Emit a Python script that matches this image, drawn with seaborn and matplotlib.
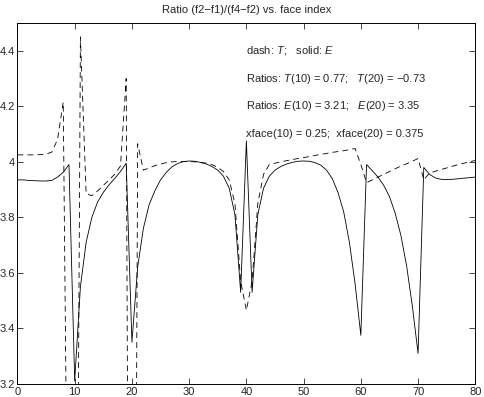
import matplotlib
matplotlib.use("Agg")
import matplotlib.pyplot as plt
import pandas as pd
import seaborn as sns

# face index and the two ratio curves
face = list(range(81))

ratio_e = [3.935, 3.935, 3.933, 3.932, 3.931, 3.931, 3.933, 3.945, 3.962, 3.99,
           3.21, 3.55, 3.71, 3.80, 3.855, 3.89, 3.917, 3.94, 3.965, 3.995,
           3.35, 3.62, 3.76, 3.845, 3.895, 3.935, 3.962, 3.982, 3.994, 4.001,
           4.003, 4.002, 3.998, 3.992, 3.983, 3.97, 3.948, 3.905, 3.81, 3.53,
           4.075, 3.53, 3.81, 3.905, 3.948, 3.97, 3.983, 3.992, 3.998, 4.002,
           4.003, 4.002, 3.997, 3.988, 3.97, 3.94, 3.89, 3.82, 3.71, 3.56,
           3.375, 3.99, 3.968, 3.945, 3.915, 3.875, 3.815, 3.735, 3.625, 3.48,
           3.31, 3.98, 3.955, 3.942, 3.937, 3.936, 3.937, 3.939, 3.941, 3.943,
           3.945]

ratio_t = [4.025, 4.025, 4.025, 4.025, 4.026, 4.028, 4.035, 4.08, 4.215, 2.05,
           0.77, 4.45, 3.885, 3.878, 3.895, 3.915, 3.935, 3.955, 3.985, 4.30,
           -0.73, 4.065, 3.97, 3.978, 3.986, 3.992, 3.997, 4.0, 4.001, 4.001,
           4.001, 4.0, 3.998, 3.995, 3.99, 3.98, 3.965, 3.935, 3.85, 3.57,
           3.465, 3.57, 3.85, 3.955, 3.99, 3.995, 4.0, 4.004, 4.008, 4.012,
           4.015, 4.019, 4.023, 4.027, 4.03, 4.034, 4.037, 4.04, 4.044, 4.048,
           3.99, 3.925, 3.935, 3.945, 3.955, 3.965, 3.975, 3.985, 3.993, 4.002,
           4.012, 3.935, 3.96, 3.966, 3.972, 3.978, 3.984, 3.99, 3.995, 4.0,
           4.005]

yticks = [3.2, 3.4, 3.6, 3.8, 4.0, 4.2, 4.4]
ytick_labels = ["3.2", "3.4", "3.6", "3.8", "4", "4.2", "4.4"]
xticks = [0, 10, 20, 30, 40, 50, 60, 70, 80]

notes = [r"dash: $T$;   solid: $E$",
         r"Ratios: $T$(10) = 0.77;   $T$(20) = $-$0.73",
         r"Ratios: $E$(10) = 3.21;   $E$(20) = 3.35",
         r"xface(10) = 0.25;  xface(20) = 0.375"]
note_y = [4.4, 4.3, 4.2, 4.1]

sns.set_style("ticks")
plt.rcParams["font.family"] = ["Liberation Sans", "DejaVu Sans"]
plt.rcParams["mathtext.fontset"] = "custom"
plt.rcParams["mathtext.rm"] = "Liberation Sans"
plt.rcParams["mathtext.it"] = "Liberation Sans:italic"

data = pd.DataFrame({"face": face, "E": ratio_e, "T": ratio_t})

fig = plt.figure(figsize=(4.85, 3.97), dpi=100)
ax = fig.add_axes([0.036, 0.033, 0.944, 0.909])

sns.lineplot(data=data, x="face", y="E", color="black", lw=0.6, ax=ax)
sns.lineplot(data=data, x="face", y="T", color="black", lw=0.6,
             linestyle=(0, (7, 5)), ax=ax)

ax.set_xlim(0, 80)
ax.set_ylim(3.2, 4.5)
ax.set_xticks(xticks)
ax.set_yticks(yticks)
ax.set_yticklabels(ytick_labels)
ax.set_xlabel("")
ax.set_ylabel("")
ax.tick_params(direction="in", top=True, right=True, length=4, width=0.6,
               labelsize=8, pad=2)
for s in ax.spines.values():
    s.set_linewidth(0.7)
    s.set_color("black")

for txt, yy in zip(notes, note_y):
    ax.text(40, yy, txt, fontsize=8, ha="left", va="center")

ax.set_title("Ratio (f2\u2212f1)/(f4\u2212f2) vs. face index", fontsize=8, pad=7)

fig.savefig("out.png", dpi=100)
